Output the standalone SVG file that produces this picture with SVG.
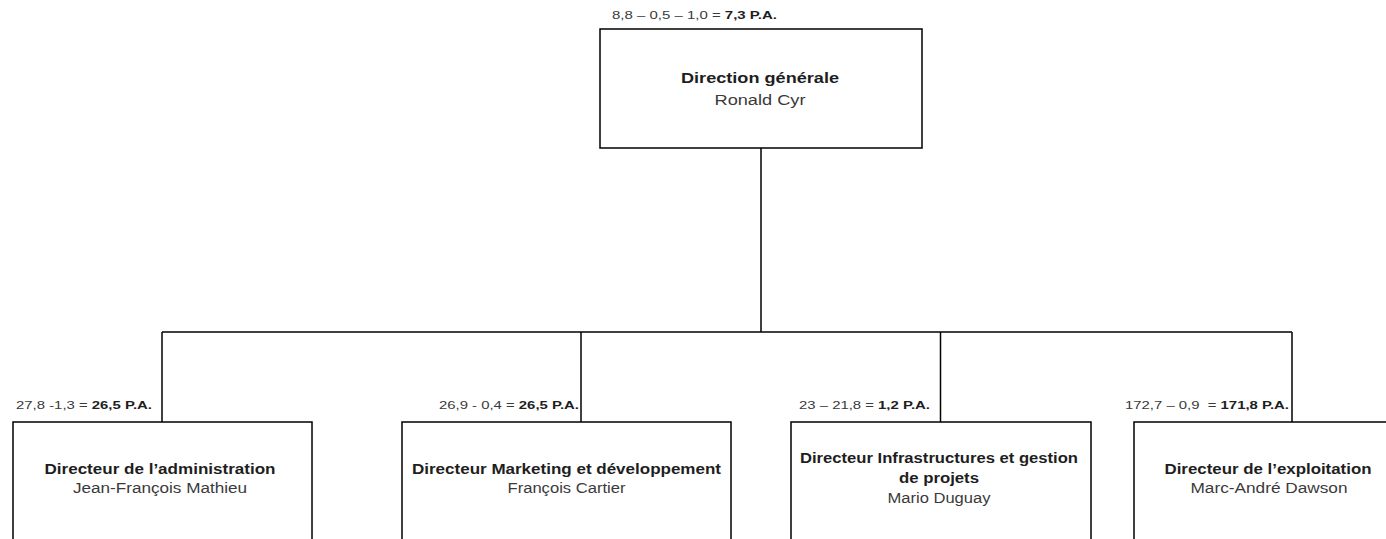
<svg xmlns="http://www.w3.org/2000/svg" width="1386" height="539" viewBox="0 0 1386 539">
<style>
  .box { fill: #ffffff; stroke: #000000; stroke-width: 1.5; }
  .conn { fill: none; stroke: #000000; stroke-width: 1.5; }
  .t { font-family: "Liberation Sans", Arial, sans-serif; font-size: 14px; text-anchor: middle; }
  .title { font-weight: bold; fill: #1e1e1e; }
  .name { fill: #3a3a3a; }
  .lbl { font-family: "Liberation Sans", Arial, sans-serif; font-size: 11px; fill: #3a3a3a; white-space: pre; }
  .lbl .b { font-weight: bold; fill: #1e1e1e; }
</style>
<rect width="1386" height="539" fill="#ffffff"/>

<g id="connectors">
  <path class="conn" d="M761,148 V332"/>
  <path class="conn" d="M162,332 H1292"/>
  <path class="conn" d="M162,332 V422"/>
  <path class="conn" d="M581,332 V422"/>
  <path class="conn" d="M940.5,332 V422"/>
  <path class="conn" d="M1292,332 V422"/>
</g>

<g id="node-direction-generale">
  <text class="lbl" x="612" y="19" textLength="165" lengthAdjust="spacingAndGlyphs">8,8 – 0,5 – 1,0 = <tspan class="b">7,3 P.A.</tspan></text>
  <rect class="box" x="600" y="29" width="322" height="119"/>
  <text class="t title" x="760" y="83" textLength="158" lengthAdjust="spacingAndGlyphs">Direction générale</text>
  <text class="t name" x="760" y="105" textLength="91" lengthAdjust="spacingAndGlyphs">Ronald Cyr</text>
</g>

<g id="node-administration">
  <text class="lbl" x="16" y="409" textLength="136" lengthAdjust="spacingAndGlyphs">27,8 -1,3 = <tspan class="b">26,5 P.A.</tspan></text>
  <rect class="box" x="13" y="422" width="299" height="140"/>
  <text class="t title" x="160" y="474" textLength="231" lengthAdjust="spacingAndGlyphs">Directeur de l’administration</text>
  <text class="t name" x="160" y="493" textLength="174" lengthAdjust="spacingAndGlyphs">Jean-François Mathieu</text>
</g>

<g id="node-marketing">
  <text class="lbl" x="439" y="409" textLength="140" lengthAdjust="spacingAndGlyphs">26,9 - 0,4 = <tspan class="b">26,5 P.A.</tspan></text>
  <rect class="box" x="402" y="422" width="329" height="140"/>
  <text class="t title" x="566.5" y="474" textLength="309" lengthAdjust="spacingAndGlyphs">Directeur Marketing et développement</text>
  <text class="t name" x="566.5" y="493" textLength="118" lengthAdjust="spacingAndGlyphs">François Cartier</text>
</g>

<g id="node-infrastructures">
  <text class="lbl" x="799" y="409" textLength="131" lengthAdjust="spacingAndGlyphs">23 – 21,8 = <tspan class="b">1,2 P.A.</tspan></text>
  <rect class="box" x="791" y="422" width="300" height="140"/>
  <text class="t title" x="939" y="463" textLength="278" lengthAdjust="spacingAndGlyphs">Directeur Infrastructures et gestion</text>
  <text class="t title" x="939" y="483" textLength="80" lengthAdjust="spacingAndGlyphs">de projets</text>
  <text class="t name" x="939" y="503" textLength="103" lengthAdjust="spacingAndGlyphs">Mario Duguay</text>
</g>

<g id="node-exploitation">
  <text class="lbl" x="1125" y="409" textLength="164" lengthAdjust="spacingAndGlyphs">172,7 – 0,9  = <tspan class="b">171,8 P.A.</tspan></text>
  <rect class="box" x="1134" y="422" width="270" height="140"/>
  <text class="t title" x="1268" y="474" textLength="207" lengthAdjust="spacingAndGlyphs">Directeur de l’exploitation</text>
  <text class="t name" x="1269" y="493" textLength="157" lengthAdjust="spacingAndGlyphs">Marc-André Dawson</text>
</g>
</svg>
